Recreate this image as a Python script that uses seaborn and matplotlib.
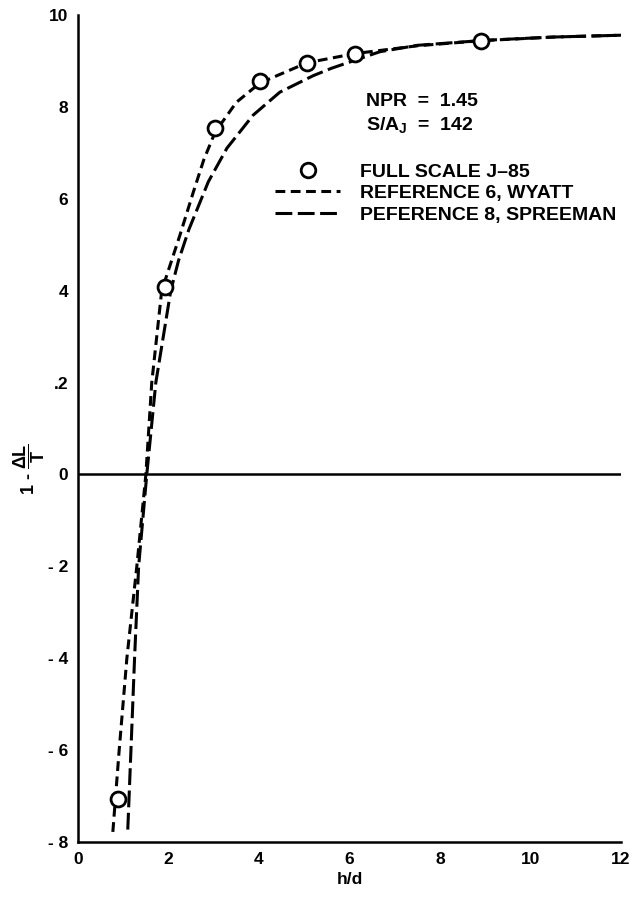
import matplotlib
matplotlib.use("Agg")
import matplotlib.pyplot as plt
from matplotlib.lines import Line2D
import seaborn as sns
import pandas as pd

# ---- data ----
test_x = [0.88, 1.92, 3.03, 4.03, 5.06, 6.12, 8.90]
test_y = [-0.706, 0.408, 0.754, 0.856, 0.896, 0.916, 0.944]

wyatt_x = [0.77, 0.91, 1.08, 1.30, 1.50, 1.63, 1.85, 2.25, 2.55, 2.78, 3.03, 3.50, 4.02, 5.06, 6.12, 7.50, 8.90, 10.5, 12.0]
wyatt_y = [-0.778, -0.600, -0.400, -0.200, 0.0, 0.200, 0.400, 0.520, 0.615, 0.685, 0.745, 0.810, 0.852, 0.896, 0.916, 0.933, 0.944, 0.952, 0.956]

spree_x = [1.10, 1.17, 1.25, 1.34, 1.52, 1.72, 2.05, 2.22, 2.45, 2.88, 3.29, 3.87, 4.46, 5.20, 5.60, 6.67, 7.50, 9.00, 10.5, 12.0]
spree_y = [-0.773, -0.600, -0.400, -0.200, 0.0, 0.200, 0.400, 0.465, 0.533, 0.637, 0.710, 0.782, 0.832, 0.868, 0.884, 0.920, 0.934, 0.945, 0.952, 0.956]

x_ticks = [0, 2, 4, 6, 8, 10, 12]
y_ticks = [-0.8, -0.6, -0.4, -0.2, 0.0, 0.2, 0.4, 0.6, 0.8, 1.0]
y_tick_labels = ["- 8", "- 6", "- 4", "- 2", "0", ".2", "4", "6", "8", "10"]

labels = ["FULL SCALE J\u201385", "REFERENCE 6, WYATT", "PEFERENCE 8, SPREEMAN"]

# ---- style ----
sns.set_style("white")
plt.rcParams["font.family"] = ["Liberation Sans", "DejaVu Sans"]
plt.rcParams["font.weight"] = "bold"
plt.rcParams["text.color"] = "black"
plt.rcParams["axes.labelcolor"] = "black"
plt.rcParams["xtick.color"] = "black"
plt.rcParams["ytick.color"] = "black"
plt.rcParams["mathtext.fontset"] = "custom"
plt.rcParams["mathtext.rm"] = "Liberation Sans:bold"
plt.rcParams["mathtext.it"] = "Liberation Sans:bold"
plt.rcParams["mathtext.bf"] = "Liberation Sans:bold"
plt.rcParams["mathtext.sf"] = "Liberation Sans:bold"

fig = plt.figure(figsize=(6.3, 8.98), dpi=100)
ax = fig.add_axes([78 / 630, 56 / 898, (621 - 78) / 630, (842 - 15) / 898])

lw = 2.2
dash_w = [3.2, 1.8]
dash_s = [5.5, 1.8]
wy = pd.DataFrame({"x": wyatt_x, "y": wyatt_y})
sp = pd.DataFrame({"x": spree_x, "y": spree_y})
sns.lineplot(data=wy, x="x", y="y", ax=ax, color="black", lw=lw, sort=False, estimator=None)
ax.lines[-1].set_dashes(dash_w)
sns.lineplot(data=sp, x="x", y="y", ax=ax, color="black", lw=lw, sort=False, estimator=None)
ax.lines[-1].set_dashes(dash_s)

sns.scatterplot(x=test_x, y=test_y, ax=ax, s=115, facecolor="white", edgecolor="black",
                linewidth=2.0, zorder=5)

ax.axhline(0.0, color="black", lw=1.8, zorder=1)

ax.set_xlim(0, 12)
ax.set_ylim(-0.8, 1.0)
ax.set_xticks(x_ticks)
ax.set_xticklabels([str(t) for t in x_ticks])
ax.set_yticks(y_ticks)
ax.set_yticklabels(y_tick_labels)
ax.tick_params(axis="both", direction="in", length=6, width=1.5, labelsize=12.5, colors="black")
ax.tick_params(axis="y", pad=7)
ax.tick_params(axis="x", pad=7)
for s in ["top", "right"]:
    ax.spines[s].set_visible(False)
for s in ["left", "bottom"]:
    ax.spines[s].set_linewidth(1.8)
    ax.spines[s].set_color("black")

ax.set_xlabel("h/d", fontsize=12.5, fontweight="bold", labelpad=4)
ax.set_ylabel(r"1 - $\dfrac{\Delta L}{T}$", fontsize=13, fontweight="bold")
ax.yaxis.set_label_coords(-(78 - 47) / 543, (842 - 469) / 827)

# annotations
fig.text(366 / 630, 1 - 102 / 898, "NPR  =  1.45", fontsize=14, fontweight="bold", va="center", ha="left")
fig.text(366 / 630, 1 - 125 / 898, r"S/A$_{J}$  =  142", fontsize=14, fontweight="bold", va="center", ha="left")

handles = [
    Line2D([], [], marker="o", linestyle="none", markersize=10.5, markerfacecolor="white",
           markeredgecolor="black", markeredgewidth=2.0),
    Line2D([], [], color="black", lw=lw, dashes=dash_w),
    Line2D([], [], color="black", lw=lw, dashes=dash_s),
]
leg = ax.legend(handles, labels, loc="upper left", bbox_to_anchor=(275 / 630, 1 - 163 / 898),
                bbox_transform=fig.transFigure, frameon=False, fontsize=14,
                handlelength=3.35, handletextpad=1.0, labelspacing=0.2, borderpad=0,
                borderaxespad=0)
for t in leg.get_texts():
    t.set_fontweight("bold")

fig.savefig("out.png", dpi=100, facecolor="white")
